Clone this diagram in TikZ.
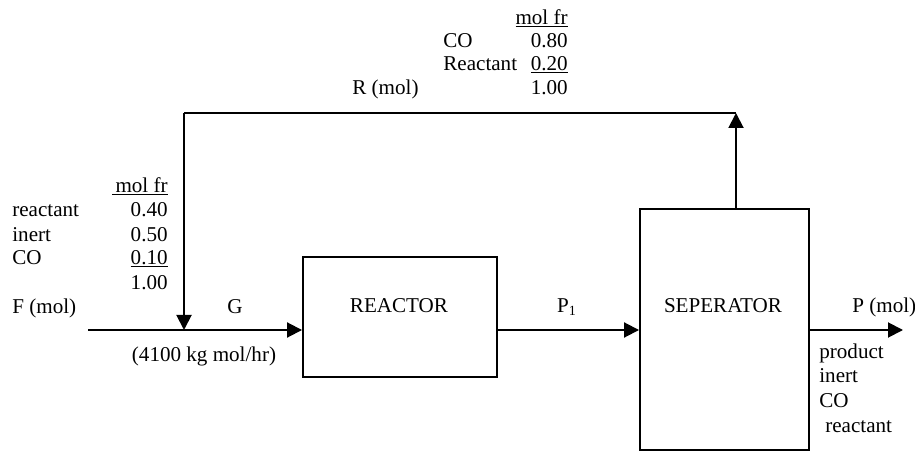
\documentclass[tikz,border=0pt]{standalone}
\usepackage{fontspec}
\setmainfont{Liberation Serif}
\usetikzlibrary{arrows.meta,positioning}

\begin{document}
\begin{tikzpicture}[
  unit/.style={draw, line width=1.1pt, minimum width=3.88cm, minimum height=2.4cm, inner sep=0pt},
  lbl/.style={inner sep=0pt, text height=0.9em, text depth=0.1em, font=\fontsize{12}{14}\selectfont},
  pipe/.style={line width=1.1pt},
  arr/.style={pipe, -{Triangle[length=0.3cm, width=0.3cm]}}
]
\useasboundingbox (0,0) rectangle (18.3,9.06);

% process units
\node[unit] (reactor) at (8.0,2.72) {};
\node[unit, minimum width=3.38cm, minimum height=4.82cm] (sep) at (14.49,2.47) {};
\node[lbl] (reactorlbl) at (7.98,2.96) {REACTOR};
\node[lbl] (seplbl) at (14.46,2.96) {SEPERATOR};

% stream points
\coordinate (feed) at (1.76,2.46);
\coordinate (mix) at (3.68,2.46);
\coordinate (rtop) at (3.68,6.8);
\coordinate (rcorner) at (14.72,6.8);
\coordinate (out) at (18.06,2.46);

\draw[pipe] (feed) -- (mix);
\draw[arr] (mix) -- (reactor.west |- mix);
\draw[arr] (reactor.east |- mix) -- (sep.west |- mix);
\draw[arr] (sep.east |- mix) -- (out);
\draw[arr] (sep.north -| rcorner) -- (rcorner);
\draw[pipe] (rcorner) -- (rtop);
\draw[arr] (rtop) -- (mix);

% stream labels
\node[lbl, anchor=west] (flbl) at (0.24,2.94) {F (mol)};
\node[lbl] (glbl) at (4.7,2.94) {G};
\node[lbl] (rate) at (4.08,1.98) {(4100 kg mol/hr)};
\node[lbl] (p1lbl) at (11.34,2.96) {P\textsubscript{1}};
\node[lbl, anchor=west] (plbl) at (17.04,2.96) {P (mol)};
\node[lbl, anchor=west] (rlbl) at (7.04,7.32) {R (mol)};

% feed composition
\node[lbl, anchor=east] (fhead) at (3.36,5.36) {\underline{\,mol fr}};
\node[lbl, anchor=west] (freac) at (0.24,4.88) {reactant};
\node[lbl, anchor=east] (freacv) at (3.36,4.88) {0.40};
\node[lbl, anchor=west] (finert) at (0.24,4.38) {inert};
\node[lbl, anchor=east] (finertv) at (3.36,4.38) {0.50};
\node[lbl, anchor=west] (fco) at (0.24,3.92) {CO};
\node[lbl, anchor=east] (fcov) at (3.36,3.92) {\underline{0.10}};
\node[lbl, anchor=east] (fsum) at (3.36,3.42) {1.00};

% recycle composition
\node[lbl, anchor=east] (rhead) at (11.36,8.72) {\underline{mol fr}};
\node[lbl, anchor=west] (rco) at (8.86,8.26) {CO};
\node[lbl, anchor=east] (rcov) at (11.36,8.26) {0.80};
\node[lbl, anchor=west] (rreac) at (8.86,7.8) {Reactant};
\node[lbl, anchor=east] (rreacv) at (11.36,7.8) {\underline{0.20}};
\node[lbl, anchor=east] (rsum) at (11.36,7.32) {1.00};

% product stream
\node[lbl, anchor=west] (pprod) at (16.38,2.04) {product};
\node[lbl, anchor=west] (pinert) at (16.38,1.56) {inert};
\node[lbl, anchor=west] (pco) at (16.38,1.06) {CO};
\node[lbl, anchor=west] (preac) at (16.5,0.56) {reactant};
\end{tikzpicture}
\end{document}
